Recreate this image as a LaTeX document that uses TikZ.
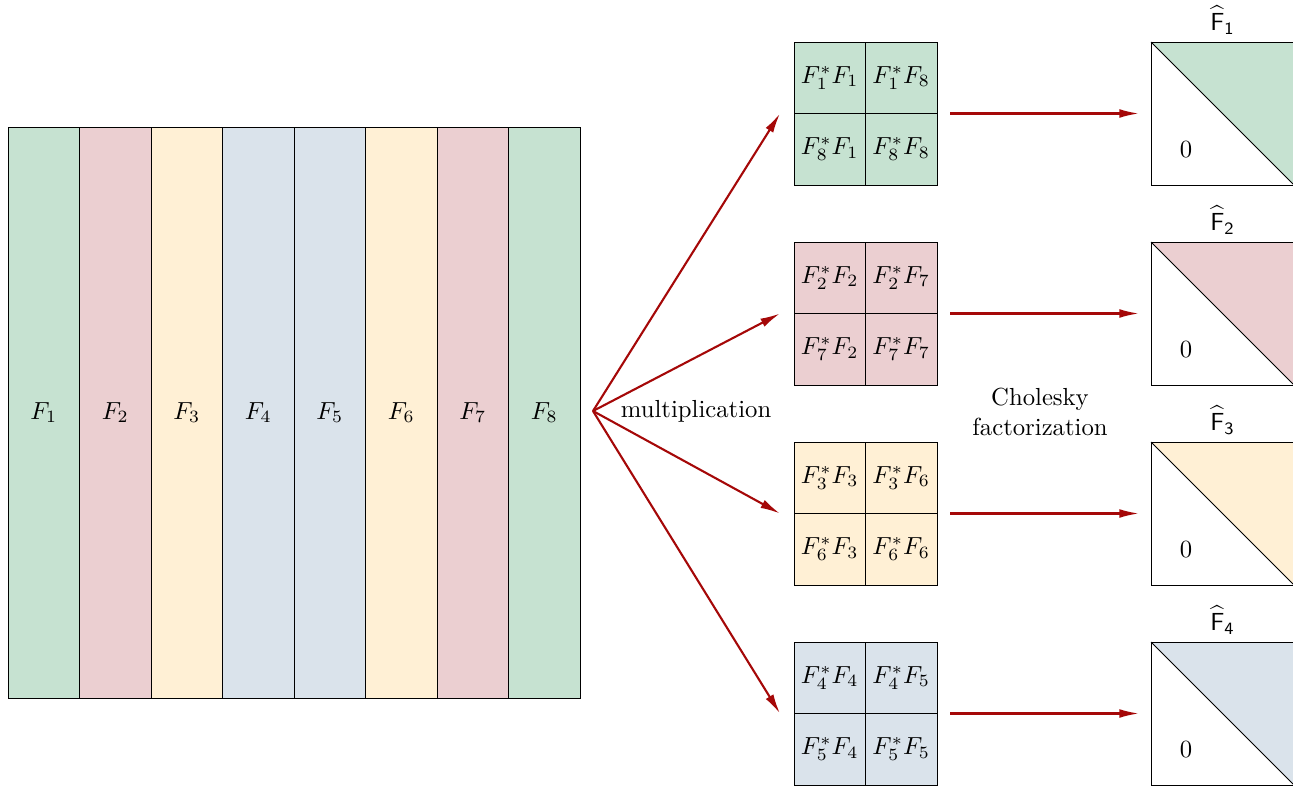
\documentclass[tikz,border=0pt]{standalone}
\usetikzlibrary{calc,arrows.meta}
\definecolor{cg}{RGB}{198,226,209}
\definecolor{cp}{RGB}{235,207,209}
\definecolor{cy}{RGB}{255,240,213}
\definecolor{cb}{RGB}{218,227,235}
\definecolor{ar}{RGB}{165,8,8}
\def\px{0.405pt}
\tikzset{
  col/.style={draw, line width=0.4pt, inner sep=0pt, outer sep=0pt, minimum width=71.5*\px, minimum height=571*\px},
  cell/.style={draw, line width=0.4pt, inner sep=0pt, outer sep=0pt, minimum width=71.5*\px, minimum height=71.5*\px},
  blk/.style={inner sep=0pt, outer sep=0pt, minimum width=143*\px, minimum height=143*\px},
  arr/.style={draw=ar, line width=0.85pt, -{Latex[length=8pt,width=3.6pt]}},
  lbl/.style={inner sep=1pt}
}
\begin{document}
\begin{tikzpicture}[x=\px, y=-\px]
\useasboundingbox (0,1) rectangle (1293,787);
% columns
\foreach \i/\c in {1/cg,2/cp,3/cy,4/cb,5/cb,6/cy,7/cp,8/cg}{
  \node[col, fill=\c] (c\i) at ({8+35.75+71.5*(\i-1)}, 413.5) {$F_{\i}$};
}
\coordinate (o) at (593,412);
\node[lbl, anchor=west] (mult) at (618,412) {multiplication};
\node[lbl, align=center] (chol) at (1040,413) {Cholesky\\factorization};
% blocks
\foreach \k/\a/\b/\c in {1/1/8/cg,2/2/7/cp,3/3/6/cy,4/4/5/cb}{
  \pgfmathsetmacro{\cy}{114.5+200*(\k-1)}
  \node[blk] (B\k) at (865.5,\cy) {};
  \node[cell, fill=\c, anchor=north west] (B\k a) at (B\k.north west) {$F_{\a}^{*}F_{\a}$};
  \node[cell, fill=\c, anchor=north east] (B\k b) at (B\k.north east) {$F_{\a}^{*}F_{\b}$};
  \node[cell, fill=\c, anchor=south west] (B\k c) at (B\k.south west) {$F_{\b}^{*}F_{\a}$};
  \node[cell, fill=\c, anchor=south east] (B\k d) at (B\k.south east) {$F_{\b}^{*}F_{\b}$};
  \node[blk] (T\k) at (1222.5,\cy) {};
  \fill[\c] (T\k.north west) -- (T\k.north east) -- (T\k.south east) -- cycle;
  \draw[line width=0.4pt] (T\k.north west) rectangle (T\k.south east);
  \draw[line width=0.4pt] (T\k.north west) -- (T\k.south east);
  \node[lbl] (Z\k) at ($(T\k.center)+(-36.5,36.5)$) {$0$};
  \node[lbl, anchor=south] (H\k) at ($(T\k.north)+(0,-5)$) {$\widehat{\mathsf{F}}_{\mathsf{\k}}$};
  \draw[arr] (o) -- ($(B\k.west)+(-14,0)$);
  \draw[arr] ($(B\k.east)+(13,0)$) -- ($(T\k.west)+(-12,0)$);
}
\end{tikzpicture}
\end{document}
